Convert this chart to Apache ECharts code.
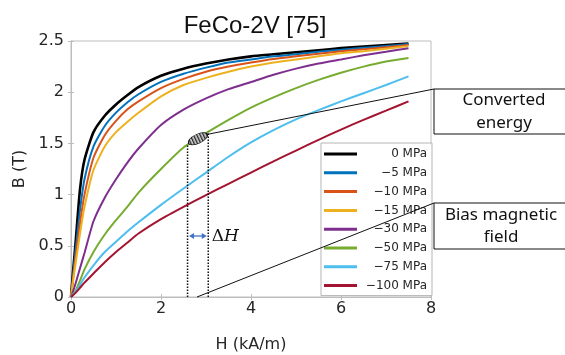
<!DOCTYPE html>
<html>
<head>
<meta charset="utf-8">
<script src="https://cdn.jsdelivr.net/npm/echarts@6/dist/echarts.min.js"></script>
<style>html,body{margin:0;padding:0;background:#fff;}#c{width:565px;height:355px;}</style>
</head>
<body>
<div id="c"></div>
<script>
// ---- data ----
var title = 'FeCo-2V [75]';
var H = [0, 0.05, 0.1, 0.2, 0.3, 0.5, 0.75, 1, 1.25, 1.5, 2, 2.5, 3, 3.5, 4, 4.5, 5, 5.5, 6, 6.5, 7, 7.5];
var names = ['0 MPa', '\u22125 MPa', '\u221210 MPa', '\u221215 MPa', '\u221230 MPa', '\u221250 MPa', '\u221275 MPa', '\u2212100 MPa'];
var B_0    = [0, 0.27, 0.52, 1.05, 1.34, 1.61, 1.77, 1.88, 1.97, 2.05, 2.16, 2.23, 2.28, 2.32, 2.35, 2.37, 2.39, 2.41, 2.43, 2.445, 2.46, 2.475];
var B_5    = [0, 0.23, 0.45, 0.85, 1.15, 1.47, 1.67, 1.80, 1.90, 1.98, 2.10, 2.18, 2.24, 2.29, 2.32, 2.35, 2.37, 2.395, 2.415, 2.435, 2.45, 2.47];
var B_10   = [0, 0.20, 0.38, 0.72, 1.00, 1.36, 1.58, 1.72, 1.83, 1.91, 2.04, 2.13, 2.20, 2.25, 2.29, 2.325, 2.35, 2.375, 2.40, 2.42, 2.44, 2.46];
var B_15   = [0, 0.17, 0.32, 0.62, 0.88, 1.24, 1.47, 1.61, 1.71, 1.80, 1.96, 2.07, 2.14, 2.20, 2.25, 2.29, 2.32, 2.35, 2.38, 2.40, 2.425, 2.45];
var B_30   = [0, 0.06, 0.13, 0.28, 0.43, 0.74, 0.97, 1.15, 1.31, 1.45, 1.68, 1.83, 1.94, 2.03, 2.10, 2.17, 2.23, 2.28, 2.32, 2.36, 2.395, 2.43];
var B_50   = [0, 0.03, 0.06, 0.16, 0.27, 0.44, 0.61, 0.75, 0.88, 1.02, 1.25, 1.46, 1.60, 1.73, 1.85, 1.95, 2.04, 2.12, 2.19, 2.25, 2.30, 2.335];
var B_75   = [0, 0.025, 0.05, 0.12, 0.19, 0.31, 0.44, 0.54, 0.64, 0.73, 0.90, 1.06, 1.215, 1.37, 1.51, 1.63, 1.735, 1.825, 1.91, 1.99, 2.07, 2.155];
var B_100  = [0, 0.02, 0.04, 0.09, 0.14, 0.23, 0.34, 0.44, 0.53, 0.62, 0.76, 0.88, 0.995, 1.105, 1.215, 1.325, 1.43, 1.535, 1.635, 1.73, 1.82, 1.91];
var seriesB = [B_0, B_5, B_10, B_15, B_30, B_50, B_75, B_100];
var colors = ['#000000', '#0072BD', '#D95319', '#EDB120', '#7E2F8E', '#77AC30', '#4DBEEE', '#A2142F'];
var xTicks = [0, 2, 4, 6, 8];
var yTicks = [0, 0.5, 1, 1.5, 2, 2.5];
var ellipseAt = [2.82, 1.545];
var deltaH = [2.59, 3.05];
var biasStart = [2.8, 0];

var chart = echarts.init(document.getElementById('c'), null, {renderer: 'canvas'});
var tickFont = {fontFamily: 'DejaVu Sans', fontSize: 16, color: '#262626'};

function pairs(b) { return H.map(function (h, i) { return [h, b[i]]; }); }

var series = seriesB.map(function (b, i) {
  return {
    name: names[i], type: 'line', data: pairs(b), showSymbol: false, symbol: 'none',
    smooth: 0.2, color: colors[i],
    lineStyle: {width: i === 0 ? 2.6 : 2, color: colors[i]},
    emphasis: {disabled: true}, silent: true, z: 2 + i, animation: false
  };
});

var gridLeft = 71, gridTop = 41, gridRight = 134, gridBottom = 58;

chart.setOption({
  animation: false,
  backgroundColor: '#ffffff',
  title: {
    text: title, left: 255, top: 14, textAlign: 'center', padding: 0,
    textStyle: {fontFamily: 'Liberation Sans', fontSize: 24, fontWeight: 'normal', color: '#111'}
  },
  grid: {left: gridLeft, top: gridTop, right: gridRight, bottom: gridBottom, show: true,
    containLabel: false, outerBoundsMode: 'none',
    borderColor: '#bdbdbd', borderWidth: 1, backgroundColor: '#fff'},
  legend: {
    orient: 'vertical', left: 321, top: 143, padding: [4, 5, 3, 3],
    itemWidth: 33, itemHeight: 3, itemGap: 4.8, itemTextGap: 3, icon: 'rect',
    backgroundColor: '#fff', borderColor: '#b5b5b5', borderWidth: 1, borderRadius: 0,
    data: names, selectedMode: false,
    formatter: function (n) { return '{a|' + n + '}'; },
    textStyle: {fontFamily: 'DejaVu Sans', fontSize: 12, color: '#262626', lineHeight: 14,
      rich: {a: {width: 65, align: 'right', fontFamily: 'DejaVu Sans', fontSize: 12, color: '#262626', lineHeight: 14}}},
    z: 20
  },
  xAxis: [{
    type: 'value', min: 0, max: 8, interval: 2,
    name: 'H (kA/m)', nameLocation: 'middle', nameGap: 40,
    nameTextStyle: {fontFamily: 'DejaVu Sans', fontSize: 16, color: '#262626'},
    axisLine: {show: true, lineStyle: {color: '#bdbdbd'}},
    axisTick: {show: true, inside: true, length: 3, lineStyle: {color: '#bdbdbd'}},
    axisLabel: Object.assign({margin: 4, formatter: function (v) { return xTicks.indexOf(v) >= 0 ? String(v) : ''; }}, tickFont),
    splitLine: {show: false}
  }, {
    type: 'value', min: 0, max: 8, interval: 2, position: 'top',
    axisLine: {show: true, lineStyle: {color: '#bdbdbd'}},
    axisTick: {show: true, inside: true, length: 3, lineStyle: {color: '#bdbdbd'}},
    axisLabel: {show: false}, splitLine: {show: false}
  }],
  yAxis: [{
    type: 'value', min: 0, max: 2.5, interval: 0.5,
    name: 'B (T)', nameLocation: 'middle', nameGap: 39,
    nameTextStyle: {fontFamily: 'DejaVu Sans', fontSize: 16, color: '#262626'},
    axisLine: {show: true, lineStyle: {color: '#bdbdbd'}},
    axisTick: {show: true, inside: true, length: 3, lineStyle: {color: '#bdbdbd'}},
    axisLabel: Object.assign({margin: 7, formatter: function (v) { return yTicks.indexOf(v) >= 0 ? String(v) : ''; }}, tickFont),
    splitLine: {show: false}
  }, {
    type: 'value', min: 0, max: 2.5, interval: 0.5, position: 'right',
    axisLine: {show: true, lineStyle: {color: '#bdbdbd'}},
    axisTick: {show: true, inside: true, length: 3, lineStyle: {color: '#bdbdbd'}},
    axisLabel: {show: false}, splitLine: {show: false}
  }],
  series: series
});

// ---- annotations ----
function px(p) { return chart.convertToPixel({xAxisIndex: 0, yAxisIndex: 0}, p); }
function greenAt(h) {
  for (var i = 1; i < H.length; i++) {
    if (h <= H[i]) { var t = (h - H[i - 1]) / (H[i] - H[i - 1]); return B_50[i - 1] + t * (B_50[i] - B_50[i - 1]); }
  }
  return B_50[B_50.length - 1];
}
var pat = document.createElement('canvas');
pat.width = 3; pat.height = 3;
var pctx = pat.getContext('2d');
pctx.fillStyle = '#d0d0d0'; pctx.fillRect(0, 0, 3, 3);
pctx.fillStyle = '#222'; pctx.fillRect(0, 0, 1.3, 3);

var ec = px(ellipseAt);
var ang = 25 * Math.PI / 180;
var ea = 10.5;
var eRight = [ec[0] + ea * Math.cos(ang), ec[1] - ea * Math.sin(ang)];
var dL0 = px([deltaH[0], 0]), dL1 = px([deltaH[0], greenAt(deltaH[0])]);
var dR0 = px([deltaH[1], 0]), dR1 = px([deltaH[1], greenAt(deltaH[1])]);
var bs = px(biasStart);
var arrowY = 236;
var aL = dL0[0] + 1.5, aR = dR0[0] - 1.5;
var blue = '#4472C4';
var boxFont = {fontFamily: 'Noto Sans', fontSize: 17, fill: '#111', align: 'center', verticalAlign: 'middle'};

chart.setOption({
  graphic: [
    {type: 'line', shape: {x1: dL0[0], y1: dL0[1], x2: dL1[0], y2: dL1[1]}, style: {stroke: '#111', lineWidth: 1.5, lineDash: [1.5, 1.5]}, z: 30, silent: true},
    {type: 'line', shape: {x1: dR0[0], y1: dR0[1], x2: dR1[0], y2: dR1[1]}, style: {stroke: '#111', lineWidth: 1.5, lineDash: [1.5, 1.5]}, z: 30, silent: true},
    {type: 'circle', x: ec[0], y: ec[1], rotation: ang, scaleX: 1, scaleY: 4.6 / ea, shape: {cx: 0, cy: 0, r: ea},
      style: {fill: {image: pat, repeat: 'repeat'}, stroke: '#111', lineWidth: 1.2}, z: 31, silent: true},
    {type: 'line', shape: {x1: eRight[0], y1: eRight[1], x2: 434, y2: 89}, style: {stroke: '#111', lineWidth: 1}, z: 32, silent: true},
    {type: 'line', shape: {x1: bs[0], y1: bs[1], x2: 434, y2: 203}, style: {stroke: '#111', lineWidth: 1}, z: 32, silent: true},
    {type: 'rect', shape: {x: 434, y: 89, width: 145, height: 45}, style: {fill: '#fff', stroke: '#111', lineWidth: 1}, z: 32, silent: true},
    {type: 'rect', shape: {x: 434, y: 203, width: 145, height: 46}, style: {fill: '#fff', stroke: '#111', lineWidth: 1}, z: 32, silent: true},
    {type: 'text', x: 504, y: 100.5, style: Object.assign({text: 'Converted'}, boxFont), z: 33, silent: true},
    {type: 'text', x: 504, y: 123, style: Object.assign({text: 'energy'}, boxFont), z: 33, silent: true},
    {type: 'text', x: 501, y: 215, style: Object.assign({text: 'Bias magnetic'}, boxFont), z: 33, silent: true},
    {type: 'text', x: 501, y: 237.5, style: Object.assign({text: 'field'}, boxFont), z: 33, silent: true},
    {type: 'line', shape: {x1: aL + 4, y1: arrowY, x2: aR - 4, y2: arrowY}, style: {stroke: blue, lineWidth: 1.3}, z: 33, silent: true},
    {type: 'polygon', shape: {points: [[aL, arrowY], [aL + 5, arrowY - 3], [aL + 5, arrowY + 3]]}, style: {fill: blue}, z: 33, silent: true},
    {type: 'polygon', shape: {points: [[aR, arrowY], [aR - 5, arrowY - 3], [aR - 5, arrowY + 3]]}, style: {fill: blue}, z: 33, silent: true},
    {type: 'text', x: dR0[0] + 3.5, y: arrowY + 1, style: {
      text: '{d|\u0394}{h|H}', verticalAlign: 'middle', align: 'left',
      rich: {d: {fontFamily: 'DejaVu Serif', fontSize: 17, fill: '#111'}, h: {fontFamily: 'DejaVu Serif', fontStyle: 'italic', fontSize: 17, fill: '#111'}}
    }, z: 33, silent: true}
  ]
});
</script>
</body>
</html>
